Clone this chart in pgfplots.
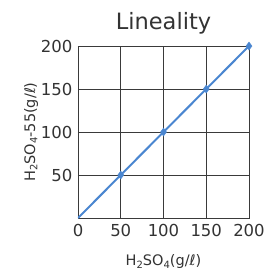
\documentclass[border=0pt]{standalone}
\usepackage{fontspec}
\setmainfont{DejaVu Sans}
\usepackage{pgfplots}
\pgfplotsset{compat=1.18}
\definecolor{lineblue}{HTML}{4A86D0}
\definecolor{gridgray}{HTML}{3A3A3A}
\newcommand{\sub}[1]{\raisebox{-0.15em}{\fontsize{10}{10}\selectfont #1}}
\begin{document}
\begin{tikzpicture}
\useasboundingbox (-78pt,-51pt) rectangle (195pt,218pt);
\begin{axis}[
  at={(0pt,0pt)}, anchor=south west,
  scale only axis,
  width=171pt, height=172pt,
  xmin=0, xmax=200, ymin=0, ymax=200,
  xtick={0,50,100,150,200},
  ytick={50,100,150,200},
  grid=major,
  major grid style={gridgray, line width=0.7pt},
  axis line style={gridgray, line width=0.7pt},
  major tick length=0pt,
  tick label style={font=\fontsize{16.5}{16.5}\selectfont, text=black!80},
  xticklabel style={yshift=-3pt},
  yticklabel style={xshift=-2pt},
  /pgf/number format/assume math mode=true,
  title={Lineality},
  title style={font=\fontsize{22.5}{22.5}\selectfont, text=black!80, yshift=2pt},
  xlabel={H\sub{2}SO\sub{4}(g/ℓ)},
  ylabel={H\sub{2}SO\sub{4}-55(g/ℓ)},
  label style={font=\fontsize{14.5}{14.5}\selectfont, text=black!80},
  xlabel style={yshift=-11pt},
  ylabel style={yshift=-4pt},
]
\addplot[color=lineblue, line width=2pt] coordinates {(0,0) (50,50) (100,100) (150,150) (200,200)};
\addplot[only marks, color=lineblue, mark=diamond*, mark size=4pt,
  mark options={fill=lineblue}] coordinates {(50,50) (100,100) (150,150) (200,200)};
\end{axis}
\end{tikzpicture}
\end{document}
